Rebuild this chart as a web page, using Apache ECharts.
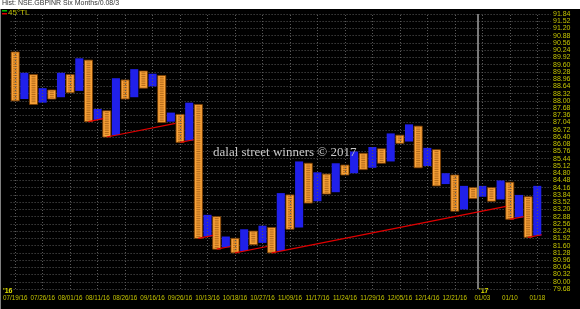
<!DOCTYPE html>
<html><head><meta charset="utf-8">
<script src="https://cdn.jsdelivr.net/npm/echarts@6/dist/echarts.min.js"></script>
<style>html,body{margin:0;padding:0;background:#000}#c{width:580px;height:309px}</style>
</head><body><div id="c"></div>
<script>
const chartTitle = 'Hist: NSE.GBPINR Six Months/0.08/3';
const dateLabels = ['07/19/16','07/26/16','08/01/16','08/11/16','08/26/16','09/16/16','09/26/16','10/13/16','10/18/16','10/27/16','11/09/16','11/17/16','11/24/16','11/29/16','12/05/16','12/14/16','12/21/16','01/03','01/10','01/18'];
const colTypes = ['O','X','O','X','O','X','O','X','O','X','O','X','O','X','O','X','O','X','O','X','O','X','O','X','O','X','O','X','O','X','O','X','O','X','O','X','O','X','O','X','O','X','O','X','O','X','O','X','O','X','O','X','O','X','O','X','O','X'];
const colHigh = [90.16,89.24,89.16,88.56,88.48,89.24,89.16,89.88,89.80,87.64,87.56,89.00,88.92,89.40,89.32,89.20,89.12,87.48,87.40,87.92,87.84,82.96,82.88,82.00,81.92,82.32,82.24,82.48,82.40,83.92,83.84,85.32,85.24,84.84,84.76,85.24,85.16,85.76,85.68,85.96,85.88,86.56,86.48,86.96,86.88,85.92,85.84,84.80,84.72,84.24,84.16,84.24,84.16,84.48,84.40,83.84,83.76,84.24];
const colLow  = [88.00,88.08,87.84,87.92,88.08,88.16,88.36,88.44,87.08,87.16,86.40,86.48,88.08,88.16,88.56,88.64,87.04,87.08,86.16,86.24,81.92,82.00,81.44,81.52,81.28,81.36,81.64,81.72,81.28,81.36,82.32,82.40,83.48,83.56,83.88,83.96,84.72,84.80,84.96,85.04,85.24,85.32,86.12,86.20,85.04,85.12,84.24,84.32,83.12,83.20,83.68,83.76,83.56,83.64,82.76,82.84,81.96,82.04];
const trendStartIdx   = [8, 10, 18, 20, 22, 24, 28, 54, 56];
const trendStartPrice = [87.08, 86.40, 86.16, 81.92, 81.44, 81.28, 81.28, 82.76, 81.96];
const trendEndIdx     = [9.6, 17.5, 19.5, 21.6, 23.5, 27.5, 53.6, 55.5, 57.5];
const trendEndPrice   = [87.21, 87.00, 86.28, 82.05, 81.56, 81.56, 83.33, 82.88, 82.08];
const lastPrice = 83.78;
const yearBreakIdx = 50.5;
const BOX = 0.08;
const YEL = '#c4c400';

const chart = echarts.init(document.getElementById('c'));

function renderCol(params, api) {
  const i = api.value(0), hi = api.value(1), lo = api.value(2), t = api.value(3);
  const p1 = api.coord([i, hi]), p2 = api.coord([i, lo]);
  const w = api.size([1, 0])[0] * 0.88;
  const x = p1[0] - w / 2, y = p1[1], h = p2[1] - p1[1];
  if (t === 1) {
    return {type: 'rect', shape: {x, y, width: w, height: h}, style: {fill: '#2020ea'}};
  }
  const children = [{type: 'rect', shape: {x, y, width: w, height: h},
    style: {fill: '#f9a33a', stroke: '#7a3c00', lineWidth: 0.8}}];
  const n = Math.round((hi - lo) / BOX);
  for (let k = 1; k < n; k++) {
    const yy = api.coord([i, hi - k * BOX])[1];
    children.push({type: 'line', shape: {x1: x + 2, y1: yy, x2: x + w - 2, y2: yy},
      style: {stroke: '#8a4604', lineWidth: 0.6}});
  }
  return {type: 'group', children};
}

const colData = colHigh.map((h, i) => [i, h, colLow[i], colTypes[i] === 'X' ? 1 : 0]);
const cats = [];
for (let i = 0; i < 59; i++) cats.push(String(i));
const gridLines = dateLabels.map((d, k) => ({xAxis: k * 3}));

const trendSeries = trendStartIdx.map((s, k) => ({
  type: 'line', name: '45°TL', xAxisIndex: 0, yAxisIndex: 0,
  data: [[s, trendStartPrice[k]], [trendEndIdx[k], trendEndPrice[k]]],
  symbol: 'none', lineStyle: {color: '#e00000', width: 1.2}, silent: true, z: 5
}));

chart.setOption({
  backgroundColor: '#000',
  animation: false,
  title: {text: chartTitle, left: 2, top: 0, padding: 0,
    textStyle: {fontSize: 7, color: '#333', fontWeight: 'normal', fontFamily: 'Liberation Sans'}},
  grid: {left: 2, right: 29, top: 14, bottom: 20, containLabel: false},
  xAxis: [
    {type: 'value', min: -0.5, max: 58.5, show: false},
    {type: 'category', data: cats, boundaryGap: true, position: 'bottom',
      axisLine: {show: false}, axisTick: {show: false}, splitLine: {show: false},
      axisLabel: {interval: 0, color: YEL, fontSize: 6.3, margin: 6, fontFamily: 'Liberation Sans',
        formatter: function (v) { const n = Number(v); return (n % 3 === 0 && dateLabels[n / 3]) ? dateLabels[n / 3] : ''; }}}
  ],
  yAxis: {type: 'value', position: 'right', min: 79.68, max: 91.84, interval: 0.32,
    axisLine: {show: false}, axisTick: {show: false},
    axisLabel: {color: YEL, fontSize: 7, margin: 2, fontFamily: 'Liberation Sans', formatter: v => v.toFixed(2)},
    splitLine: {lineStyle: {color: '#5a5a5a', type: [1, 2], width: 1}}},
  series: [
    {type: 'line', xAxisIndex: 0, data: [], silent: true,
      markLine: {silent: true, symbol: 'none', label: {show: false},
        lineStyle: {color: '#5a5a5a', type: [1, 2], width: 1},
        data: gridLines}},
    {type: 'line', xAxisIndex: 0, data: [], silent: true, z: 3,
      markLine: {silent: true, symbol: 'none', label: {show: false},
        lineStyle: {color: '#7a7a7a', type: 'solid', width: 2},
        data: [{xAxis: yearBreakIdx}]}},
    {type: 'custom', xAxisIndex: 0, yAxisIndex: 0, renderItem: renderCol, data: colData,
      encode: {x: 0, y: [1, 2]}, z: 4, silent: true},
    ...trendSeries,
    {type: 'line', xAxisIndex: 0, data: [], silent: true,
      markLine: {silent: true, symbol: 'none', lineStyle: {opacity: 0},
        label: {show: true, position: 'end', distance: 2, formatter: lastPrice.toFixed(2),
          backgroundColor: '#ffff00', color: '#000', fontSize: 7, padding: [1, 7, 1, 3], fontFamily: 'Liberation Sans'},
        data: [{yAxis: lastPrice}]}}
  ],
  graphic: [
    {type: 'rect', left: 0, top: 0, shape: {width: 580, height: 9}, style: {fill: '#fff'}, z: -1},
    {type: 'line', shape: {x1: 0.5, y1: 9, x2: 0.5, y2: 309}, style: {stroke: '#808080', lineWidth: 1}},
    {type: 'rect', shape: {x: 2, y: 10, width: 5, height: 1.5}, style: {fill: '#00c000'}},
    {type: 'rect', shape: {x: 2, y: 13, width: 5, height: 1.5}, style: {fill: '#e00000'}},
    {type: 'text', x: 8, y: 13, style: {text: '45°TL', fill: YEL, font: '8px "Liberation Sans"', textVerticalAlign: 'middle'}},
    {type: 'text', x: 3, y: 291, style: {text: "'16", fill: '#e0e000', font: 'bold 7px "Liberation Sans"', textVerticalAlign: 'middle'}},
    {type: 'text', x: 479, y: 291, style: {text: "'17", fill: '#e0e000', font: 'bold 7px "Liberation Sans"', textVerticalAlign: 'middle'}},
    {type: 'text', x: 213, y: 153, style: {text: 'dalal street winners © 2017', fill: '#c8c8c8', font: '13px "Liberation Serif"', textVerticalAlign: 'middle'}, z: 10}
  ]
});
</script></body></html>
